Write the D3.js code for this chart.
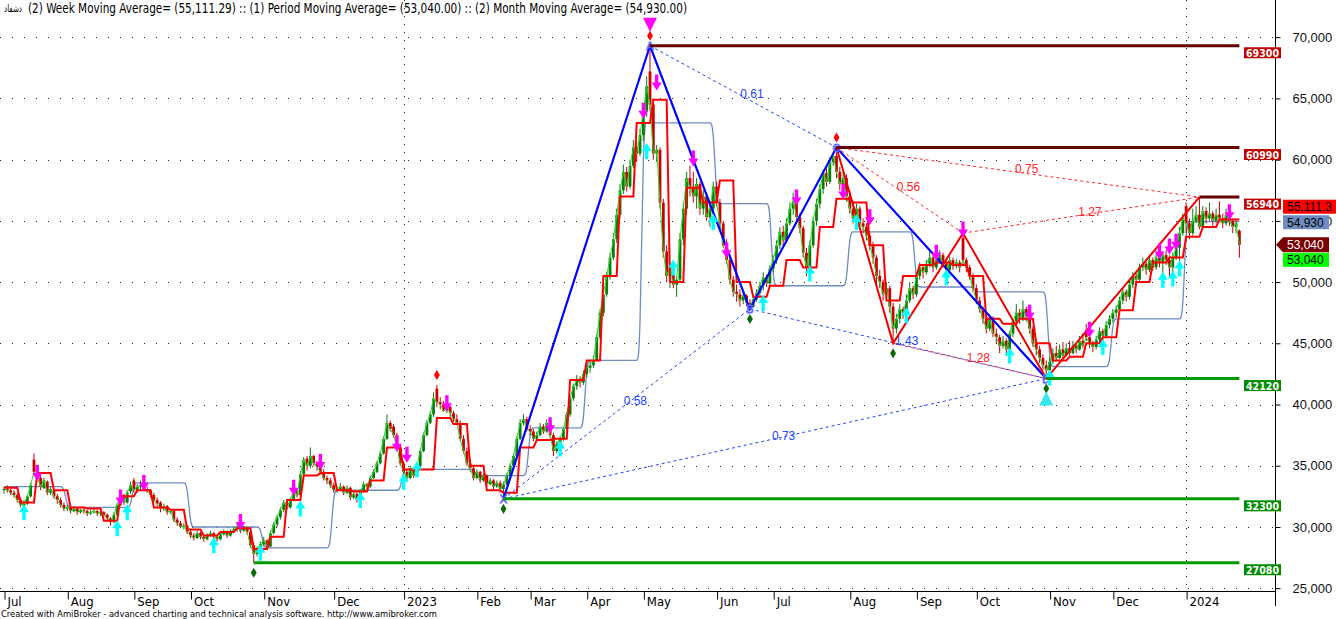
<!DOCTYPE html>
<html><head><meta charset="utf-8">
<script src="https://cdn.jsdelivr.net/npm/d3@7"></script>
<style>body{margin:0;background:#fff}svg{display:block}</style>
</head><body><svg id="c" width="1336" height="619"></svg>
<script>
// Daily bars [open, high, low, close] in hundreds of rials
const ohlc = [
[330,333,327,331],[331,334,328,330],[330,331,326,328],[328,330,324,326],[326,328,320,322],[322,324,316,318],[317,322,315,319],[319,326,318,325],[325,336,324,334],[355,360,342,345],
[345,350,338,340],[340,344,330,333],[332,340,331,338],[337,338,326,328],[328,333,326,331],[330,331,323,325],[325,327,319,322],[322,324,316,318],[318,320,313,315],[315,318,313,316],
[316,317,311,313],[313,317,312,315],[315,316,310,312],[312,315,311,314],[314,316,311,313],[313,314,309,311],[311,314,310,312],[312,315,311,313],[313,314,309,311],[311,313,309,312],
[312,313,308,310],[310,311,305,307],[307,308,301,304],[304,312,303,310],[310,320,309,318],[318,327,317,325],[326,327,318,320],[320,330,319,328],[329,337,327,334],[338,340,328,330],
[330,335,328,333],[333,338,331,334],[335,336,329,331],[331,333,328,330],[330,331,324,326],[326,328,320,322],[322,324,317,319],[320,321,312,315],[315,319,313,317],[317,318,310,312],
[312,315,311,313],[313,314,304,306],[306,308,301,303],[303,305,299,300],[300,303,298,301],[301,302,294,296],[296,298,291,293],[293,295,289,291],[291,297,290,295],[295,296,290,292],
[292,293,288,290],[290,295,289,293],[293,297,292,295],[295,296,290,292],[292,293,288,290],[290,296,289,294],[294,298,293,296],[296,297,291,293],[293,298,292,296],[296,300,295,298],
[298,302,296,300],[300,301,295,297],[297,301,296,299],[299,300,294,296],[296,297,283,285],[285,287,270.8,278],[278,284,276,282],[282,288,280,286],[286,292,284,289],[289,290,282,284],
[284,297,283,295],[295,304,294,302],[302,310,300,308],[308,316,306,314],[314,322,312,320],[320,321,314,316],[316,324,315,322],[322,332,321,330],[330,331,324,326],[326,346,325,343],
[343,357,341,355],[356,358,346,350],[350,365,348,358],[358,359,350,352],[352,354,346,349],[350,352,343,345],[345,347,338,340],[340,342,335,338],[338,340,332,334],[334,336,328,330],
[330,333,328,331],[331,336,330,333],[333,334,326,328],[328,334,327,332],[332,333,322,324],[324,329,323,327],[327,328,320,322],[322,331,321,329],[329,337,328,335],[335,336,331,333],
[333,342,332,340],[340,347,339,345],[345,354,344,352],[352,362,351,360],[360,374,359,372],[372,392,371,385],[385,387,378,380],[382,384,373,375],[375,377,363,365],[365,367,350,352],
[352,354,343,345],[345,347,337,340],[340,350,339,348],[348,349,340,342],[342,352,341,350],[350,364,349,362],[362,377,361,375],[375,387,374,385],[385,394,384,392],[392,410,390,405],
[413,416,398,402],[402,406,396,400],[400,403,394,395],[395,400,393,398],[398,399,390,393],[393,395,386,388],[388,392,383,385],[385,387,370,372],[372,375,360,362],[362,365,350,352],
[352,356,345,348],[348,350,338,340],[340,347,339,345],[345,346,336,338],[338,344,337,342],[342,343,333,335],[335,340,334,338],[338,339,330,333],[333,338,332,336],[336,338,328,331],
[331,337,323,335],[335,344,334,342],[342,352,341,350],[350,360,349,358],[358,374,357,372],[372,388,371,385],[385,392,383,388],[388,390,378,380],[380,383,375,378],[378,380,370,372],
[372,378,370,375],[375,385,374,382],[382,384,376,378],[378,388,377,385],[385,386,373,375],[375,377,358,362],[362,370,360,368],[368,374,364,372],[372,382,370,380],[380,394,378,392],
[392,407,390,405],[405,417,403,415],[415,424,412,420],[420,423,414,418],[418,428,416,425],[425,434,422,430],[430,436,426,432],[432,440,430,436],[436,458,435,455],[455,478,453,475],
[475,493,472,490],[490,508,488,505],[505,524,502,520],[520,540,518,535],[535,560,532,555],[555,580,552,575],[575,596,572,590],[590,594,574,578],[578,600,576,595],[595,616,593,610],
[610,615,598,605],[605,625,603,620],[620,645,615,640],[640,668,635,660],[672,693,640,645],[645,650,600,605],[605,612,598,608],[608,610,560,565],[565,568,520,525],[525,530,500,505],
[505,515,495,512],[512,514,495,498],[498,505,488,502],[502,540,500,535],[535,565,530,560],[560,590,555,585],[585,595,570,578],[578,590,565,570],[570,585,560,580],[580,582,555,560],
[560,575,555,570],[570,572,550,553],[553,565,545,560],[560,582,555,578],[578,582,562,565],[565,568,545,548],[548,550,528,530],[530,535,515,518],[518,520,498,502],[502,505,488,492],
[492,498,484,490],[490,494,480,485],[485,492,482,489],[489,490,480,483],[483,486,478,480],[480,488,479,486],[486,494,484,491],[491,500,488,497],[497,508,493,504],[504,506,496,499],
[499,514,497,511],[511,522,508,518],[518,534,515,530],[530,545,527,541],[541,546,530,534],[534,552,532,548],[548,565,546,560],[560,573,555,566],[570,574,550,553],[553,556,540,544],
[544,546,520,524],[524,528,505,512],[512,534,510,530],[530,553,528,550],[550,568,546,564],[564,580,560,576],[576,592,572,589],[589,593,578,582],[582,602,580,598],[598,606,595,603],
[603,609.9,585,590],[590,594,575,580],[580,590,576,585],[585,588,566,570],[570,575,556,560],[560,563,548,552],[552,564,550,560],[560,562,545,548],[548,552,540,545],[545,548,534,538],
[538,541,526,530],[530,533,515,520],[520,522,500,505],[505,510,495,500],[500,502,485,490],[490,500,488,495],[495,497,475,480],[480,483,450,462],[462,474,458,470],[470,482,466,478],
[478,480,470,475],[475,490,473,485],[485,500,483,495],[495,497,486,490],[490,508,488,505],[505,516,502,512],[512,514,503,508],[508,518,506,515],[515,525,512,520],[520,522,508,512],
[512,522,510,518],[518,526,515,522],[522,524,512,515],[515,517,506,510],[510,521,508,518],[518,520,510,513],[513,519,511,516],[516,518,508,512],[536,540,514,518],[518,520,508,512],
[512,514,502,505],[505,507,492,495],[495,498,482,485],[485,488,475,478],[478,480,466,470],[470,472,458,462],[462,474,460,470],[470,472,455,458],[458,462,450,455],[455,457,442,448],
[448,456,446,452],[452,454,440,445],[445,460,443,458],[458,470,455,468],[468,482,465,475],[475,478,466,470],[470,485,468,478],[478,480,468,472],[472,476,458,462],[462,464,447,450],
[450,453,440,445],[445,448,434,438],[438,441,428,432],[432,436,421.2,428],[428,438,426,435],[435,446,433,442],[442,448,436,438],[438,449,437,445],[445,451,438,440],[440,450,439,446],
[446,452,440,442],[442,452,441,448],[448,450,442,445],[445,456,444,452],[452,458,446,448],[458,466,452,455],[455,457,446,450],[450,452,443,447],[447,456,445,453],[453,463,451,460],
[460,462,449,456],[456,468,454,465],[465,473,462,470],[470,478,467,475],[475,481,471,478],[478,488,476,485],[485,495,482,492],[492,494,484,488],[488,501,486,498],[498,508,495,505],
[505,507,497,502],[502,515,500,512],[512,520,509,515],[515,517,506,510],[510,521,508,518],[518,520,509,512],[512,523,510,520],[520,524,512,516],[516,525,502,522],[522,526,514,518],
[518,522,505,512],[512,524,503,520],[520,532,518,528],[528,545,511,540],[540,556,538,552],[562,565,540,548],[548,552,535,540],[540,560,538,550],[550,562,548,555],[555,569.4,543,545],
[545,562,543,558],[558,561,548,552],[552,565,550,556],[556,558,546,550],[550,560,548,555],[555,566,550,552],[552,556,544,548],[548,560,546,555],[555,558,546,550],[550,552,540,545],
[545,551,540,548],[542,543,520,530.4]
];
// (2) Week moving average, one value per 5-bar week (hundreds)
const weekMA = [332,320,344,330,316,315,305,325,330,316,314,298,293,296,299,282,292,322,342,344,
330,329,338,365,347,347,389,384,350,330,328,365,371,372,420,436,505,570,630,649,
500,577,565,583,500,488,497,518,512,545,568,565,530,485,505,514,516,514,505,470,
466,470,450,436,439,450,455,477,500,516,520,537,545,551.1,551.1];
// (2) Month moving average, one value per month (hundreds)
const monthMA = [333,316,336,300,283,330,347,342,381,436,630,564,497,541,496,492,431,470,549.3];
const monthLabels = ["Jul","Aug","Sep","Oct","Nov","Dec","2023","Feb","Mar","Apr","May","Jun","Jul","Aug","Sep","Oct","Nov","Dec","2024"];
const monthStarts = [0,19,39,56,78,99,120,142,158,175,192,214,231,254,274,292,314,333,355];
const yTickValues = [25000,30000,35000,40000,45000,50000,55000,60000,65000,70000];
// Harmonic pivots [bar, price(hundreds)]
const blueZig = [[150,323],[194,693],[224,478],[250,609.9],[313,421.2]];   // X A B C D
const redZig  = [[250,609.9],[267,450],[288,540],[313,421.2],[359,569.4]]; // C E F D G
const blueRatios = [[1,3,"0.61"],[0,2,"0.58"],[0,4,"0.73"],[2,4,"1.43"]];
const redRatios  = [[0,2,"0.56"],[0,4,"0.75"],[2,4,"1.27"],[1,3,"1.28"]];
const pivotLetters = [["X",150,323],["A",194,693],["B",224,478],["C",250,609.9],["D",313,421.2]];
const levels = [[693,194,"r"],[609.9,250,"r"],[569.4,359,"r"],[421.2,313,"g"],[323,150,"g"],[270.8,75,"g"]];
const highDiamonds = [130,194,250];
const lowDiamonds = [75,150,224,267,313];
const sellArrows = [[10,344],[35,324],[42,336],[71,304],[87,332],[95,353],[118,368],[121,359],[133,401],[164,383],[192,640],[196,663],[207,601],[217,526],[238,569],[252,574],[260,553],[280,524],[288,543],[308,475],[326,461],[347,525],[350,529],[352,533],[368,557]];
const buyArrows = [[6,312],[34,299],[37,312],[63,285],[77,279],[89,315],[107,322],[120,337],[124,347],[167,364],[193,607],[201,512],[213,549],[228,483],[242,507],[256,549],[271,473],[283,504],[302,440],[314,422],[330,447],[348,502],[351,503],[353,511]];
const lastValues = {week:55111.29, period:53040, month:54930};

const P = v => v*100;
const svg = d3.select('#c');
const PR = 1275.5, PB = 591.5;
const x = d3.scaleLinear().domain([0, ohlc.length-1]).range([4, 1239.4]);
const y = d3.scaleLinear().domain([25000,70000]).range([588.2, 37.2]);
const NARROW = '"Liberation Sans Narrow","Arial Narrow","DejaVu Sans Condensed",sans-serif';
const ARIAL = '"Liberation Sans",Arial,sans-serif';

svg.append('rect').attr('width',1336).attr('height',619).attr('fill','#fff');
svg.append('defs').append('clipPath').attr('id','clip').append('rect').attr('x',0).attr('y',0).attr('width',PR).attr('height',PB);

// grid
const grid = svg.append('g');
grid.selectAll('line.h').data(yTickValues).join('line')
  .attr('x1',0).attr('x2',PR).attr('y1',d=>Math.round(y(d))+0.5).attr('y2',d=>Math.round(y(d))+0.5)
  .attr('stroke','#222').attr('stroke-dasharray','1,11');
grid.selectAll('line.v').data(monthStarts.filter((d,i)=>/^\d{4}$/.test(monthLabels[i]))).join('line')
  .attr('x1',d=>Math.round(x(d))+0.5).attr('x2',d=>Math.round(x(d))+0.5).attr('y1',0).attr('y2',PB)
  .attr('stroke','#222').attr('stroke-dasharray','1,7');

const g = svg.append('g').attr('clip-path','url(#clip)');

// month MA
const monthOf = i => d3.bisectRight(monthStarts, i) - 1;
g.append('path').datum(ohlc).attr('fill','none').attr('stroke','#6f8cc2').attr('stroke-width',1.3)
  .attr('d', d3.line().curve(d3.curveBasis).x((d,i)=>x(i)).y((d,i)=>y(P(monthMA[monthOf(i)]))));

// candles
const cg = g.append('g');
const kg = cg.selectAll('g').data(ohlc).join('g')
  .attr('fill', d=> d[3]>=d[0] ? '#0d7a0d' : '#c80000')
  .attr('stroke', d=> d[3]>=d[0] ? '#0d7a0d' : '#c80000');
kg.append('line').attr('x1',(d,i)=>x(i)).attr('x2',(d,i)=>x(i))
  .attr('y1',d=>y(P(d[1]))).attr('y2',d=>y(P(d[2]))).attr('stroke-width',1);
kg.append('rect').attr('x',(d,i)=>x(i)-1.4).attr('width',2.8)
  .attr('y',d=>y(P(Math.max(d[0],d[3])))).attr('height',d=>Math.max(1,Math.abs(y(P(d[0]))-y(P(d[3])))))
  .attr('stroke','none');

// period MA (close)
g.append('path').datum(ohlc).attr('fill','none').attr('stroke','#22e022').attr('stroke-width',1)
  .attr('d', d3.line().x((d,i)=>x(i)).y(d=>y(P(d[3]))));
// week MA
g.append('path').datum(ohlc).attr('fill','none').attr('stroke','#ff0000').attr('stroke-width',2)
  .attr('d', d3.line().x((d,i)=>x(i)).y((d,i)=>y(P(weekMA[Math.floor(i/5)]))));

// harmonic dashed ratio lines
const pt = p => [x(p[0]), y(P(p[1]))];
function ratioLines(piv, ratios, color){
  ratios.forEach(([a,b,lab])=>{
    const A = pt(piv[a]), B = pt(piv[b]);
    g.append('line').attr('x1',A[0]).attr('y1',A[1]).attr('x2',B[0]).attr('y2',B[1])
      .attr('stroke',color).attr('stroke-width',1).attr('stroke-dasharray','3,3');
    g.append('text').attr('x',(A[0]+B[0])/2-3).attr('y',(A[1]+B[1])/2+1)
      .attr('font-family',ARIAL).attr('font-size',12).attr('fill',color).text(lab);
  });
}
ratioLines(blueZig, blueRatios, '#2244ff');
ratioLines(redZig, redRatios, '#ff2222');
g.append('path').attr('fill','none').attr('stroke','#0000ff').attr('stroke-width',2.2)
  .attr('d', d3.line()(blueZig.map(pt)));
g.append('path').attr('fill','none').attr('stroke','#ee0000').attr('stroke-width',2)
  .attr('d', d3.line()(redZig.map(pt)));
g.selectAll('text.pl').data(pivotLetters).join('text')
  .attr('x',d=>x(d[1])).attr('y',d=>y(P(d[2]))+4).attr('text-anchor','middle')
  .attr('font-family',ARIAL).attr('font-size',11).attr('fill','none').attr('stroke','#5566ff').attr('stroke-width',0.8).text(d=>d[0]);

// diamonds
const dia = d3.symbol().type(d3.symbolDiamond).size(30);
g.selectAll('path.dh').data(highDiamonds).join('path')
  .attr('transform',d=>`translate(${x(d)},${y(P(ohlc[d][1]))-10})`).attr('d',dia).attr('fill','#ff0000');
g.selectAll('path.dl').data(lowDiamonds).join('path')
  .attr('transform',d=>`translate(${x(d)},${y(P(ohlc[d][2]))+10})`).attr('d',dia).attr('fill','#0a6a0a');

// arrows
const downArrow = 'M-1.7,-8H1.7V0H5L0,8L-5,0H-1.7Z';
const upArrow = 'M-1.7,8H1.7V0H5L0,-8L-5,0H-1.7Z';
g.selectAll('path.sa').data(sellArrows).join('path')
  .attr('transform',d=>`translate(${x(d[0])},${y(P(d[1]))})`).attr('d',downArrow).attr('fill','#ff00ff');
g.selectAll('path.ba').data(buyArrows).join('path')
  .attr('transform',d=>`translate(${x(d[0])},${y(P(d[1]))})`).attr('d',upArrow).attr('fill','#00ffff');
// big pattern triangles
g.append('path').attr('transform',`translate(${x(blueZig[1][0])},${y(P(blueZig[1][1]))-21})`)
  .attr('d','M-7,-7L7,-7L0,7Z').attr('fill','#ff00ff');
g.append('path').attr('transform',`translate(${x(blueZig[4][0])},${y(P(blueZig[4][1]))+20})`)
  .attr('d','M-7,7L7,7L0,-7Z').attr('fill','#33e8e8');

// right axis
const ya = svg.append('g').attr('transform',`translate(${PR},0)`)
  .call(d3.axisRight(y).tickValues(yTickValues).tickFormat(d3.format(',')).tickSize(5).tickPadding(12));
ya.select('.domain').remove();
ya.selectAll('text').attr('font-family',ARIAL).attr('font-size',13).attr('fill','#111');
ya.selectAll('line').attr('stroke','#000');
svg.append('line').attr('x1',PR).attr('x2',PR).attr('y1',0).attr('y2',606).attr('stroke','#000');

// support / resistance levels (drawn over the axis line)
const lv = svg.append('g');
levels.forEach(([v,bar,k])=>{
  const yy = y(P(v));
  lv.append('line').attr('x1',x(bar)).attr('x2',x(ohlc.length-1)).attr('y1',yy).attr('y2',yy)
    .attr('stroke', k==='r' ? '#650000' : '#009a00').attr('stroke-width',3);
  lv.append('rect').attr('x',1244).attr('y',yy+1.5).attr('width',37).attr('height',11)
    .attr('fill', k==='r' ? '#c00000' : '#008c00');
  lv.append('text').attr('x',1262.5).attr('y',yy+11).attr('text-anchor','middle')
    .attr('font-family','"DejaVu Sans",Verdana,sans-serif').attr('font-weight','bold').attr('font-size',10)
    .attr('textLength',33).attr('lengthAdjust','spacingAndGlyphs')
    .attr('fill','#fff').text(Math.round(P(v)));
});

// bottom axis
const xa = svg.append('g').attr('transform',`translate(0,${PB})`)
  .call(d3.axisBottom(x).tickValues(monthStarts).tickFormat((d,i)=>monthLabels[i]).tickSize(8).tickPadding(0));
xa.select('.domain').remove();
xa.selectAll('line').attr('stroke','#000').attr('transform','translate(0.5,0)');
xa.selectAll('text').attr('text-anchor','start').attr('dx',3).attr('y',14.5).attr('dy',0)
  .attr('font-family',NARROW).attr('font-size',13).attr('fill','#000');
svg.append('line').attr('x1',0).attr('x2',PR).attr('y1',PB).attr('y2',PB).attr('stroke','#000');

// last-value tags
const tags = svg.append('g').attr('font-family',ARIAL).attr('font-size',12);
function tag(cy, fill, txt, tcol, w){
  tags.append('rect').attr('x',1283).attr('y',cy-7).attr('width',w).attr('height',14).attr('fill',fill);
  tags.append('text').attr('x',1287).attr('y',cy+4.5).attr('fill',tcol).text(txt);
}
const yMonth = y(lastValues.month), yPer = y(lastValues.period);
tag(yMonth-15, '#ff0000', d3.format(',.1f')(lastValues.week), '#000', 53);
tag(yMonth+0.5, '#6f8cc2', d3.format(',')(lastValues.month), '#000', 46);
tags.append('path').attr('d',`M1276,${yPer}L1283,${yPer-7.5}H1329V${yPer+7.5}H1283Z`).attr('fill','#7a0000');
tags.append('text').attr('x',1287).attr('y',yPer+4.5).attr('fill','#fff').text(d3.format(',')(lastValues.period));
tag(yPer+15, '#00ff00', d3.format(',')(lastValues.period), '#000', 46);

// title & footer
svg.append('text').attr('x',4).attr('y',12).attr('font-family','"DejaVu Sans","Noto Sans",sans-serif').attr('font-size',10).attr('fill','#000')
  .attr('textLength',18).attr('lengthAdjust','spacingAndGlyphs').text('دشفاد');
svg.append('text').attr('x',28).attr('y',13).attr('font-family',NARROW).attr('font-size',14).attr('fill','#000')
  .attr('textLength',659).attr('lengthAdjust','spacingAndGlyphs')
  .text('(2) Week Moving Average= (55,111.29) :: (1) Period Moving Average= (53,040.00) :: (2) Month Moving Average= (54,930.00)');
svg.append('text').attr('x',1).attr('y',617).attr('font-family',NARROW).attr('font-size',9.5).attr('fill','#000')
  .attr('textLength',436).attr('lengthAdjust','spacingAndGlyphs')
  .text('Created with AmiBroker - advanced charting and technical analysis software. http://www.amibroker.com');
</script></body></html>
